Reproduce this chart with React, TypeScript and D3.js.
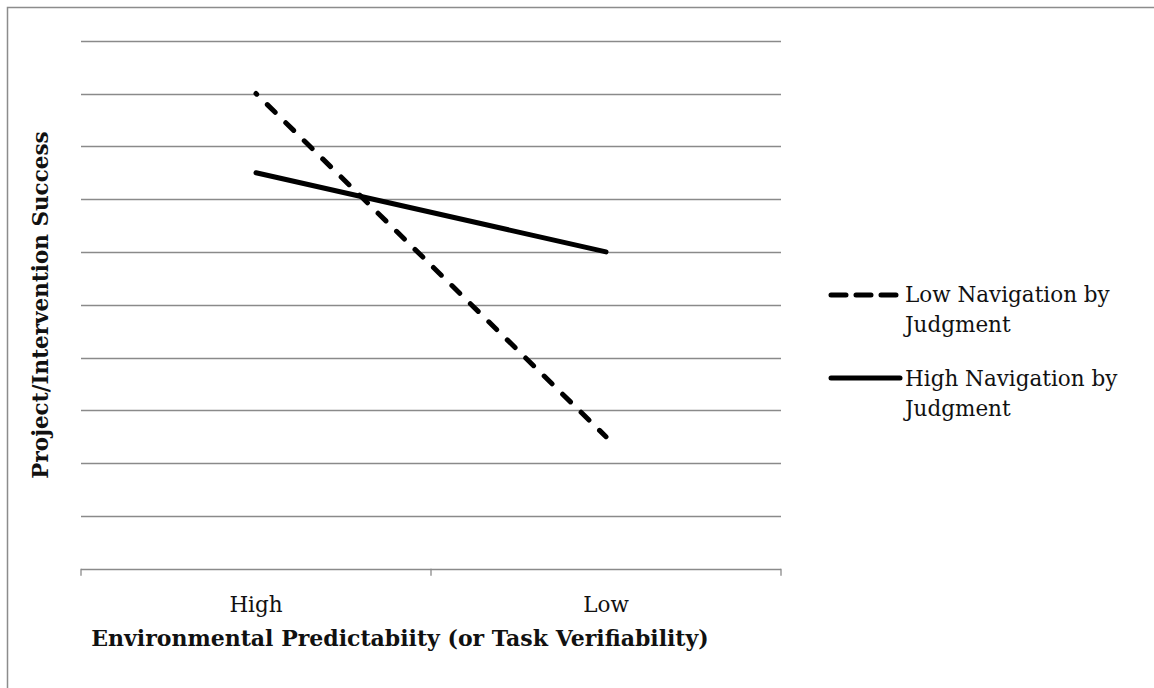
import React from "react";
import * as d3 from "d3";

const categories = ["High", "Low"];
const lowNavigation = [9, 2.5];
const highNavigation = [7.5, 6];
const yTicks = [0, 1, 2, 3, 4, 5, 6, 7, 8, 9, 10];
const seriesNames = ["Low Navigation by Judgment", "High Navigation by Judgment"];
const xTitle = "Environmental Predictabiity (or Task Verifiability)";
const yTitle = "Project/Intervention Success";

const FONT = "'DejaVu Serif', serif";
const FS = 21.5;

export default function App() {
  const x = d3.scaleBand<string>().domain(categories).range([81, 781]);
  const y = d3.scaleLinear().domain([0, 10]).range([568.7, 40.7]);
  const cx = (c: string) => (x(c) as number) + x.bandwidth() / 2;
  const line = d3
    .line<number>()
    .x((_, i) => cx(categories[i]))
    .y((d) => y(d));
  const tickXs = [...categories.map((c) => x(c) as number), 781];

  return (
    <svg
      width={1154}
      height={688}
      style={{ position: "absolute", left: 0, top: 0, background: "#fff" }}
    >
      <rect x={7.5} y={7.5} width={1160} height={700} fill="#fff" stroke="#8c8c8c" strokeWidth={1.5} />
      {yTicks.slice(1).map((t) => (
        <line key={t} x1={81} x2={781} y1={Math.round(y(t)) + 0.5} y2={Math.round(y(t)) + 0.5} stroke="#8a8a8a" strokeWidth={1.3} />
      ))}
      <line x1={81} x2={781} y1={Math.round(y(0)) + 0.5} y2={Math.round(y(0)) + 0.5} stroke="#8a8a8a" strokeWidth={1.6} />
      {tickXs.map((tx, i) => (
        <line key={i} x1={tx} x2={tx} y1={y(0)} y2={y(0) + 7} stroke="#8a8a8a" strokeWidth={1.3} />
      ))}
      {categories.map((c) => (
        <text key={c} x={cx(c)} y={612} textAnchor="middle" fontFamily={FONT} fontSize={FS} fill="#111">
          {c}
        </text>
      ))}
      <text x={400} y={646} textAnchor="middle" fontFamily={FONT} fontSize={22} fontWeight="bold" fill="#111">
        {xTitle}
      </text>
      <text
        transform={`translate(48,305) rotate(-90)`}
        textAnchor="middle"
        fontFamily={FONT}
        fontSize={FS}
        fontWeight="bold"
        fill="#111"
      >
        {yTitle}
      </text>
      <path d={line(lowNavigation) as string} fill="none" stroke="#000" strokeWidth={5} strokeDasharray="11 14.85" strokeDashoffset={10} strokeLinecap="round" />
      <path d={line(highNavigation) as string} fill="none" stroke="#000" strokeWidth={5} strokeLinecap="round" />
      <g>
        <line x1={831} x2={897} y1={295} y2={295} stroke="#000" strokeWidth={5} strokeDasharray="15 10" strokeLinecap="round" />
        <text x={905} y={302} fontFamily={FONT} fontSize={FS} fill="#111">
          <tspan x={905}>Low Navigation by</tspan>
          <tspan x={905} dy={30}>Judgment</tspan>
        </text>
        <line x1={831} x2={900} y1={378} y2={378} stroke="#000" strokeWidth={5} strokeLinecap="round" />
        <text x={905} y={386} fontFamily={FONT} fontSize={FS} fill="#111">
          <tspan x={905}>High Navigation by</tspan>
          <tspan x={905} dy={30}>Judgment</tspan>
        </text>
      </g>
      <title>{seriesNames.join(", ")}</title>
    </svg>
  );
}
